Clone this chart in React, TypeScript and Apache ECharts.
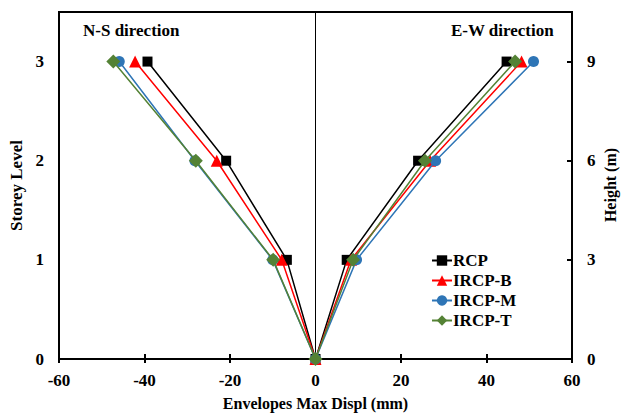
import React, { useEffect, useRef } from "react";
import * as echarts from "echarts";

const seriesNames = ["RCP", "IRCP-B", "IRCP-M", "IRCP-T"];
const storeyLevels = [0, 1, 2, 3];
const heightTicks = [0, 3, 6, 9];
// N-S direction envelopes (mm), storeys 1..3
const nsRCP = [-6.7, -20.9, -39.3];
const nsIRCPB = [-7.9, -23.1, -42.2];
const nsIRCPM = [-10.0, -28.2, -45.9];
const nsIRCPT = [-9.9, -28.0, -47.3];
// E-W direction envelopes (mm), storeys 1..3
const ewRCP = [7.3, 24.0, 44.7];
const ewIRCPB = [8.3, 26.8, 48.2];
const ewIRCPM = [9.6, 28.1, 51.0];
const ewIRCPT = [8.8, 25.6, 46.7];

const nsData = [nsRCP, nsIRCPB, nsIRCPM, nsIRCPT];
const ewData = [ewRCP, ewIRCPB, ewIRCPM, ewIRCPT];
const colors = ["#000000", "#FF0000", "#2E75B6", "#548235"];
const symbols = ["rect", "triangle", "circle", "diamond"];
const symbolSizes = [10, 12, 11, 14];

const FONT = "'Liberation Serif', 'Times New Roman', serif";

function buildPoints(ns: number[], ew: number[]): number[][] {
  const pts: number[][] = [];
  for (let i = ns.length - 1; i >= 0; i--) pts.push([ns[i], storeyLevels[i + 1]]);
  pts.push([0, storeyLevels[0]]);
  for (let i = 0; i < ew.length; i++) pts.push([ew[i], storeyLevels[i + 1]]);
  return pts;
}

export default function App() {
  const ref = useRef<HTMLDivElement>(null);
  useEffect(() => {
    if (!ref.current) return;
    const chart = echarts.init(ref.current, undefined, { renderer: "svg" });
    const series: any[] = seriesNames.map((name, k) => ({
      name,
      type: "line",
      xAxisIndex: 0,
      yAxisIndex: 0,
      data: buildPoints(nsData[k], ewData[k]),
      symbol: symbols[k],
      symbolSize: symbolSizes[k],
      itemStyle: { color: colors[k] },
      lineStyle: { color: colors[k], width: 1.5 },
      z: 3 + k,
    }));
    series[0].markLine = {
      silent: true,
      symbol: "none",
      label: { show: false },
      lineStyle: { color: "#000", width: 1, type: "solid" },
      data: [{ xAxis: 0 }],
    };
    chart.setOption({
      animation: false,
      textStyle: { fontFamily: FONT },
      grid: {
        left: 59,
        right: 49,
        top: 12,
        bottom: 55,
        outerBoundsMode: "none",
        containLabel: false,
        show: true,
        borderColor: "#000",
        borderWidth: 2,
      },
      graphic: [
        {
          type: "text",
          left: 83,
          top: 22,
          style: { text: "N-S direction", font: `bold 17px ${FONT}`, fill: "#000" },
        },
        {
          type: "text",
          right: 67,
          top: 22,
          style: { text: "E-W direction", font: `bold 17px ${FONT}`, fill: "#000" },
        },
        {
          type: "text",
          x: 610,
          y: 185,
          rotation: Math.PI / 2,
          style: {
            text: "Height (m)",
            font: `bold 16px ${FONT}`,
            fill: "#000",
            align: "center",
            verticalAlign: "middle",
          },
        },
      ],
      legend: {
        orient: "vertical",
        left: 426,
        top: 247,
        itemWidth: 20,
        itemHeight: 13,
        itemGap: 3,
        data: seriesNames,
        textStyle: { fontFamily: FONT, fontWeight: "bold", fontSize: 17, color: "#000", padding: [0, 0, 0, -4] },
      },
      xAxis: [
        {
          type: "value",
          min: -60,
          max: 60,
          interval: 20,
          position: "bottom",
          axisLine: { show: true, onZero: false, lineStyle: { color: "#000", width: 2 } },
          axisTick: { show: true, inside: true, length: 5, lineStyle: { color: "#000", width: 2 } },
          axisLabel: { color: "#000", fontFamily: FONT, fontWeight: "bold", fontSize: 17, margin: 13 },
          splitLine: { show: false },
          name: "Envelopes Max Displ (mm)",
          nameLocation: "middle",
          nameGap: 36,
          nameTextStyle: { color: "#000", fontFamily: FONT, fontWeight: "bold", fontSize: 16 },
        },
        {
          type: "value",
          min: -60,
          max: 60,
          interval: 20,
          position: "bottom",
          axisLine: { show: false, onZero: false },
          axisTick: { show: true, inside: false, length: 4, lineStyle: { color: "#000", width: 2 } },
          axisLabel: { show: false },
          splitLine: { show: false },
        },
      ],
      yAxis: [
        {
          type: "value",
          min: 0,
          max: 3.5,
          interval: 1,
          position: "left",
          axisLine: { show: true, onZero: false, lineStyle: { color: "#000", width: 2 } },
          axisTick: { show: false },
          axisLabel: {
            color: "#000",
            fontFamily: FONT,
            fontWeight: "bold",
            fontSize: 17,
            margin: 15,
            showMaxLabel: false,
            formatter: (v: number) => (storeyLevels.indexOf(v) >= 0 ? String(v) : ""),
          },
          splitLine: { show: false },
          name: "Storey Level",
          nameLocation: "middle",
          nameGap: 33,
          nameRotate: 90,
          nameTextStyle: { color: "#000", fontFamily: FONT, fontWeight: "bold", fontSize: 17 },
        },
        {
          type: "value",
          min: 0,
          max: 10.5,
          interval: 3,
          position: "right",
          axisLine: { show: true, onZero: false, lineStyle: { color: "#000", width: 2 } },
          axisTick: { show: true, inside: true, length: 5, lineStyle: { color: "#000", width: 2 } },
          axisLabel: {
            color: "#000",
            fontFamily: FONT,
            fontWeight: "bold",
            fontSize: 17,
            margin: 15,
            showMaxLabel: false,
            formatter: (v: number) => (heightTicks.indexOf(v) >= 0 ? String(v) : ""),
          },
          splitLine: { show: false },
        },
      ],
      series,
    });
    return () => chart.dispose();
  }, []);
  return (
    <div
      ref={ref}
      style={{ position: "fixed", left: 0, top: 0, width: 621, height: 414, background: "#fff" }}
    />
  );
}
